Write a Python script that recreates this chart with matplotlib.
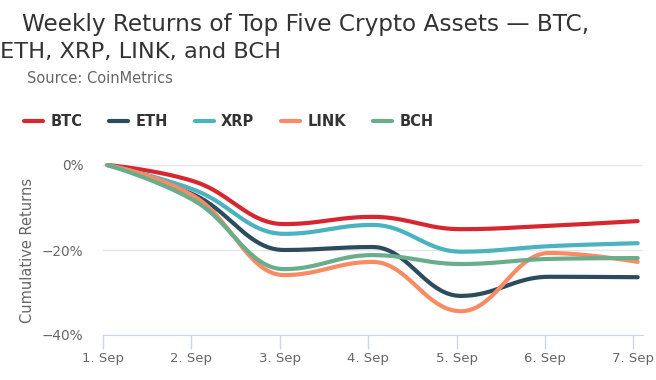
import numpy as np
import matplotlib.pyplot as plt

days = ["1. Sep", "2. Sep", "3. Sep", "4. Sep", "5. Sep", "6. Sep", "7. Sep"]
btc = [0, -4.0, -13.9, -12.2, -15.1, -14.3, -13.2]
eth = [0, -7.2, -20.0, -19.3, -30.8, -26.3, -26.4]
xrp = [0, -6.0, -16.2, -14.1, -20.4, -19.1, -18.4]
link = [0, -7.6, -25.9, -22.8, -34.4, -20.7, -22.8]
bch = [0, -8.6, -24.5, -21.2, -23.3, -22.1, -21.9]

names = ["BTC", "ETH", "XRP", "LINK", "BCH"]
colors = ["#d7262f", "#2c4b5f", "#4bb3bf", "#f88b65", "#6aad8b"]


def spline(xs, ys, n=40):
    # highcharts style spline (smoothing 1.5)
    xs = list(map(float, xs)); ys = list(map(float, ys))
    k = len(xs)
    lc = [None] * k
    rc = [None] * k
    for i in range(1, k - 1):
        px, py = xs[i], ys[i]
        lx, ly = xs[i - 1], ys[i - 1]
        nx, ny = xs[i + 1], ys[i + 1]
        lcx = (1.5 * px + lx) / 2.5
        lcy = (1.5 * py + ly) / 2.5
        rcx = (1.5 * px + nx) / 2.5
        rcy = (1.5 * py + ny) / 2.5
        corr = (rcy - lcy) * (rcx - px) / (rcx - lcx) + py - rcy
        lcy += corr
        rcy += corr
        if lcy > ly and lcy > py:
            lcy = max(ly, py); rcy = 2 * py - lcy
        elif lcy < ly and lcy < py:
            lcy = min(ly, py); rcy = 2 * py - lcy
        if rcy > ny and rcy > py:
            rcy = max(ny, py); lcy = 2 * py - rcy
        elif rcy < ny and rcy < py:
            rcy = min(ny, py); lcy = 2 * py - rcy
        lc[i] = (lcx, lcy)
        rc[i] = (rcx, rcy)
    ox, oy = [xs[0]], [ys[0]]
    t = np.linspace(0, 1, n)[1:]
    for i in range(1, k):
        p0 = (xs[i - 1], ys[i - 1])
        p1 = rc[i - 1] if rc[i - 1] else p0
        p3 = (xs[i], ys[i])
        p2 = lc[i] if lc[i] else p3
        bx = (1 - t) ** 3 * p0[0] + 3 * (1 - t) ** 2 * t * p1[0] + 3 * (1 - t) * t ** 2 * p2[0] + t ** 3 * p3[0]
        by = (1 - t) ** 3 * p0[1] + 3 * (1 - t) ** 2 * t * p1[1] + 3 * (1 - t) * t ** 2 * p2[1] + t ** 3 * p3[1]
        ox.extend(bx); oy.extend(by)
    return np.array(ox), np.array(oy)


fig = plt.figure(figsize=(6.56, 3.8), dpi=100)
ax = fig.add_axes([103 / 656, 1 - 335 / 380, 540 / 656, 170 / 380])

x = np.arange(len(days)) + 0.05
for vals, name, c in zip([btc, eth, xrp, link, bch], names, colors):
    sx, sy = spline(x, vals)
    ax.plot(sx, sy, color=c, lw=3, label=name, clip_on=False, solid_capstyle="round", zorder=3)

ax.set_xlim(0, 6.11)
ax.set_ylim(-40, 0)
ax.set_yticks([0, -20, -40])
ax.set_yticklabels(["0%", "\u221220%", "\u221240%"])
ax.set_xticks(np.arange(len(days)))
ax.set_xticklabels(days)
ax.grid(axis="y", color="#e6e6e6", lw=1)
ax.set_axisbelow(True)
for s in ["top", "right", "left"]:
    ax.spines[s].set_visible(False)
ax.spines["bottom"].set_color("#ccd6eb")
ax.tick_params(axis="y", length=0, pad=14, labelsize=9.8, labelcolor="#666666")
ax.tick_params(axis="x", length=10, width=1, color="#ccd6eb", labelsize=9.5, labelcolor="#666666", pad=2)
ax.set_ylabel("Cumulative Returns", fontsize=10.5, color="#666666")
ax.yaxis.set_label_coords((35 - 103) / 540, 0.5)

fig.text(22 / 656, 1 - 31 / 380, "Weekly Returns of Top Five Crypto Assets \u2014 BTC,",
         fontsize=16.7, color="#333333", va="baseline")
fig.text(0, 1 - 57.5 / 380, "ETH, XRP, LINK, and BCH", fontsize=16.2, color="#333333", va="baseline")
fig.text(27 / 656, 1 - 83 / 380, "Source: CoinMetrics", fontsize=10.5, color="#666666", va="baseline")

leg = fig.legend(loc="center left", bbox_to_anchor=(24 / 656, 1 - 122 / 380), ncol=5, frameon=False,
                 borderpad=0, borderaxespad=0, handlelength=1.3, handletextpad=0.5, columnspacing=1.85,
                 prop={"weight": "bold", "size": 10.5})
for t in leg.get_texts():
    t.set_color("#333333")

fig.savefig("out.png", dpi=100)
